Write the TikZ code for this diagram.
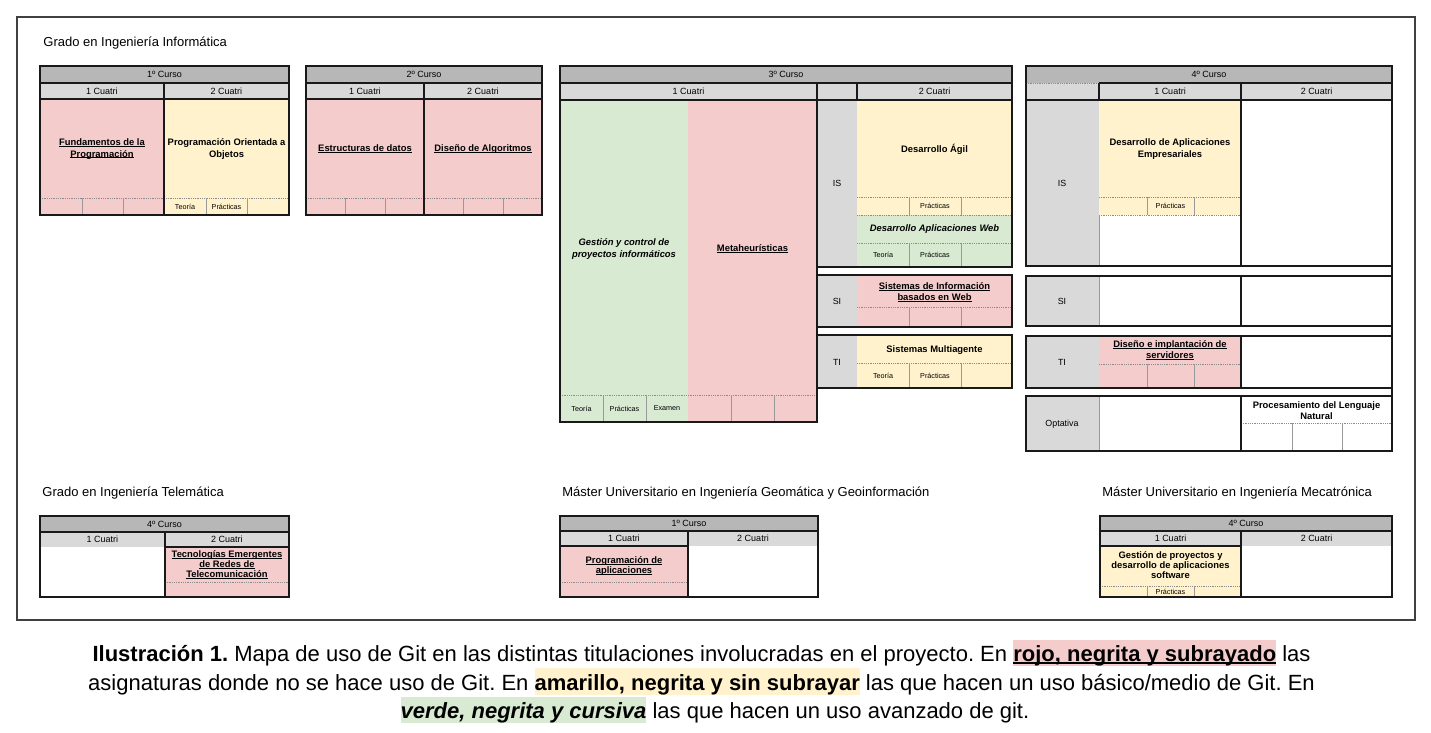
\documentclass[tikz,border=0pt]{standalone}
\usepackage{fontspec}
\setmainfont{Liberation Sans}
\frenchspacing
\setlength{\fboxsep}{0pt}
\newsavebox\myulbox
\newcommand\myul[1]{\leavevmode\sbox\myulbox{#1}\rlap{\rule[-0.11em]{\wd\myulbox}{0.08em}}\usebox\myulbox}
\newcommand\hlstrut{\rule[-0.08em]{0pt}{1.06em}}
\definecolor{pinkc}{HTML}{F4CCCC}
\definecolor{yelc}{HTML}{FFF2CC}
\definecolor{grnc}{HTML}{D9EAD3}
\definecolor{hdra}{HTML}{B7B7B7}
\definecolor{hdrb}{HTML}{D9D9D9}
\definecolor{lblc}{HTML}{D9D9D9}
\tikzset{
 thk/.style={draw=black!90, line width=1.1pt},
 dotl/.style={draw=black!45, line width=0.35pt, dash pattern=on 0.45pt off 0.45pt},
 thn/.style={draw=black!40, line width=0.35pt},
 ttl/.style={anchor=base west, inner sep=0pt, font=\fontsize{6.5}{7.8}\selectfont},
 hd/.style={inner sep=0pt, font=\fontsize{4.5}{5.4}\selectfont},
 subj/.style={inner sep=0pt, align=center, font=\fontsize{4.7}{5.6}\selectfont\bfseries},
 subji/.style={inner sep=0pt, align=center, font=\fontsize{4.7}{5.6}\selectfont\bfseries\itshape},
 subjb/.style={inner sep=0pt, align=center, font=\fontsize{4.7}{5.0}\selectfont\bfseries},
 sm/.style={inner sep=0pt, font=\fontsize{3.6}{4.2}\selectfont},
 lbl/.style={inner sep=0pt, font=\fontsize{4.45}{5.2}\selectfont},
 captxt/.style={inner sep=0pt, anchor=base, font=\fontsize{11}{13.2}\selectfont},
}
\begin{document}
\begin{tikzpicture}[x=0.5pt,y=-0.5pt]
\useasboundingbox (0,0) rectangle (1431,733);
\fill[white] (0,0) rectangle (1431,733);
\draw[black!75, line width=0.6pt] (17,17) rectangle (1415,620);

% ---------- Titles
\node[ttl] (t1) at (43,47) {Grado en Ingeniería Informática};
\node[ttl] (t2) at (42,496) {Grado en Ingeniería Telemática};
\node[ttl] (t3) at (562,496) {Máster Universitario en Ingeniería Geomática y Geoinformación};
\node[ttl] (t4) at (1102,496) {Máster Universitario en Ingeniería Mecatrónica};

% ---------- Block 1: 1º Curso
\fill[hdra] (40,66) rectangle (289,83);
\fill[hdrb] (40,83) rectangle (289,99);
\fill[pinkc] (40,99) rectangle (164,215);
\fill[yelc] (164,99) rectangle (289,215);
\draw[dotl] (40,198) -- (289,198);
\draw[thn] (82,198) -- (82,215) (123,198) -- (123,215) (206,198) -- (206,215) (247,198) -- (247,215);
\draw[thk] (40,66) rectangle (289,215) (40,83) -- (289,83) (40,99) -- (289,99) (164,83) -- (164,215);
\node[hd] (c1h) at (164.5,74.5) {1º Curso};
\node[hd] (c1a) at (102,91.5) {1 Cuatri};
\node[hd] (c1b) at (226.5,91.5) {2 Cuatri};
\node[subj] (fp) at (102,149) {\myul{Fundamentos de la}\\\myul{Programación}};
\node[subj] (poo) at (226.5,149) {Programación Orientada a\\Objetos};
\node[sm] (poot) at (185,206.5) {Teoría};
\node[sm] (poop) at (226.5,206.5) {Prácticas};

% ---------- Block 2: 2º Curso
\fill[hdra] (306,66) rectangle (542,83);
\fill[hdrb] (306,83) rectangle (542,99);
\fill[pinkc] (306,99) rectangle (542,215);
\draw[dotl] (306,198) -- (542,198);
\draw[thn] (345,198) -- (345,215) (385,198) -- (385,215) (463,198) -- (463,215) (503,198) -- (503,215);
\draw[thk] (306,66) rectangle (542,215) (306,83) -- (542,83) (306,99) -- (542,99) (424,83) -- (424,215);
\node[hd] (c2h) at (424,74.5) {2º Curso};
\node[hd] (c2a) at (365,91.5) {1 Cuatri};
\node[hd] (c2b) at (483,91.5) {2 Cuatri};
\node[subj] (ed) at (365,149) {\myul{Estructuras de datos}};
\node[subj] (da) at (483,149) {\myul{Diseño de Algoritmos}};

% ---------- Block 3: 3º Curso
\fill[hdra] (560,66) rectangle (1012,83);
\fill[hdrb] (560,83) rectangle (1012,100);
\fill[grnc] (560,100) rectangle (688,422);
\fill[pinkc] (688,100) rectangle (817,422);
\draw[dotl] (560,395) -- (817,395);
\draw[thn] (603,395) -- (603,422) (646,395) -- (646,422) (731,395) -- (731,422) (774,395) -- (774,422);
% IS
\fill[lblc] (817,100) rectangle (857,267);
\fill[yelc] (857,100) rectangle (1012,215);
\fill[grnc] (857,215) rectangle (1012,267);
\draw[dotl] (857,197) -- (1012,197) (857,215) -- (1012,215) (857,243) -- (1012,243);
\draw[thn] (909,197) -- (909,215) (961,197) -- (961,215) (909,243) -- (909,267) (961,243) -- (961,267);
% SI
\fill[lblc] (817,275) rectangle (857,327);
\fill[pinkc] (857,275) rectangle (1012,327);
\draw[dotl] (857,307) -- (1012,307);
\draw[thn] (909,307) -- (909,327) (961,307) -- (961,327);
% TI
\fill[lblc] (817,335) rectangle (857,388);
\fill[yelc] (857,335) rectangle (1012,388);
\draw[dotl] (857,363) -- (1012,363);
\draw[thn] (909,363) -- (909,388) (961,363) -- (961,388);
% borders
\draw[thk] (560,66) rectangle (1012,100);
\draw[thk] (560,83) -- (1012,83) (817,83) -- (817,100) (857,83) -- (857,100);
\draw[thk] (560,100) -- (560,422) -- (817,422) -- (817,100);
\draw[thk] (817,100) rectangle (1012,267);
\draw[thk] (817,275) rectangle (1012,327);
\draw[thk] (817,335) rectangle (1012,388);
\node[hd] (c3h) at (786,74.5) {3º Curso};
\node[hd] (c3a) at (688.5,91.5) {1 Cuatri};
\node[hd] (c3b) at (934.5,91.5) {2 Cuatri};
\node[subji] (gcp) at (624,249) {Gestión y control de\\proyectos informáticos};
\node[subj] (meta) at (752.5,249) {\myul{Metaheurísticas}};
\node[sm] (gcpt) at (581.5,408.5) {Teoría};
\node[sm] (gcpp) at (624.5,408.5) {Prácticas};
\node[sm] (gcpe) at (667,408.5) {Examen};
\node[lbl] (is3) at (837,183) {IS};
\node[subj] (dag) at (934.5,149) {Desarrollo Ágil};
\node[sm] (dagp) at (935,206) {Prácticas};
\node[subji] (daw) at (934.5,229) {Desarrollo Aplicaciones Web};
\node[sm] (dawt) at (883,255) {Teoría};
\node[sm] (dawp) at (935,255) {Prácticas};
\node[lbl] (si3) at (837,301) {SI};
\node[subj] (siw) at (934.5,292) {\myul{Sistemas de Información}\\\myul{basados en Web}};
\node[lbl] (ti3) at (837,362) {TI};
\node[subj] (sma) at (934.5,350) {Sistemas Multiagente};
\node[sm] (smat) at (883,376) {Teoría};
\node[sm] (smap) at (935,376) {Prácticas};

% ---------- Block 4: 4º Curso
\fill[hdra] (1026,66) rectangle (1392,83);
\fill[hdrb] (1026,83) rectangle (1392,100);
\fill[lblc] (1026,100) rectangle (1099,266);
\fill[yelc] (1099,100) rectangle (1241,215);
\draw[dotl] (1099,197) -- (1241,197) (1099,215) -- (1241,215);
\draw[thn] (1147,197) -- (1147,215) (1194,197) -- (1194,215) (1099,215) -- (1099,266);
\fill[lblc] (1026,276) rectangle (1099,326);
\draw[thn] (1099,276) -- (1099,326);
\fill[lblc] (1026,336) rectangle (1099,388);
\fill[pinkc] (1099,336) rectangle (1241,388);
\draw[dotl] (1099,364) -- (1241,364);
\draw[thn] (1147,364) -- (1147,388) (1194,364) -- (1194,388);
\fill[lblc] (1026,396) rectangle (1099,451);
\draw[thn] (1099,396) -- (1099,451);
\draw[dotl] (1241,423) -- (1392,423);
\draw[thn] (1292,423) -- (1292,451) (1342,423) -- (1342,451);
\draw[dotl] (1026,83) -- (1099,83);
\draw[thk] (1026,100) -- (1026,66) -- (1392,66) -- (1392,451);
\draw[thk] (1099,83) -- (1392,83) (1099,83) -- (1099,100) (1241,83) -- (1241,100) (1026,100) -- (1392,100);
\draw[thk] (1026,100) rectangle (1392,266) (1241,100) -- (1241,266);
\draw[thk] (1026,276) rectangle (1392,326) (1241,276) -- (1241,326);
\draw[thk] (1026,336) rectangle (1392,388) (1241,336) -- (1241,388);
\draw[thk] (1026,396) rectangle (1392,451) (1241,396) -- (1241,451);
\node[hd] (c4h) at (1209,74.5) {4º Curso};
\node[hd] (c4a) at (1170,91.5) {1 Cuatri};
\node[hd] (c4b) at (1316.5,91.5) {2 Cuatri};
\node[lbl] (is4) at (1062,183) {IS};
\node[subj] (dae) at (1170,149) {Desarrollo de Aplicaciones\\Empresariales};
\node[sm] (daep) at (1170.5,206) {Prácticas};
\node[lbl] (si4) at (1062,301) {SI};
\node[lbl] (ti4) at (1062,362) {TI};
\node[subj] (dis) at (1170,350) {\myul{Diseño e implantación de}\\\myul{servidores}};
\node[lbl] (opt) at (1062,424) {Optativa};
\node[subj] (pln) at (1316.5,411) {Procesamiento del Lenguaje\\Natural};

% ---------- Telemática
\fill[hdra] (40,516) rectangle (289,532);
\fill[hdrb] (40,532) rectangle (289,547);
\fill[pinkc] (165,547) rectangle (289,597);
\draw[dotl] (165,582) -- (289,582);
\draw[thk] (40,516) rectangle (289,597) (40,532) -- (289,532) (165,547) -- (289,547) (165,532) -- (165,597);
\node[hd] (c5h) at (164.5,524) {4º Curso};
\node[hd] (c5a) at (102.5,539.5) {1 Cuatri};
\node[hd] (c5b) at (227,539.5) {2 Cuatri};
\node[subjb] (ter) at (227,565) {\myul{Tecnologías Emergentes}\\\myul{de Redes de}\\\myul{Telecomunicación}};

% ---------- Geomática
\fill[hdra] (560,516) rectangle (818,531);
\fill[hdrb] (560,531) rectangle (818,546);
\fill[pinkc] (560,546) rectangle (688,597);
\draw[dotl] (560,582) -- (688,582);
\draw[thk] (560,516) rectangle (818,597) (560,531) -- (818,531) (560,546) -- (688,546) (688,531) -- (688,597);
\node[hd] (c6h) at (689,523.5) {1º Curso};
\node[hd] (c6a) at (624,538.5) {1 Cuatri};
\node[hd] (c6b) at (753,538.5) {2 Cuatri};
\node[subjb] (pda) at (624,566) {\myul{Programación de}\\\myul{aplicaciones}};

% ---------- Mecatrónica
\fill[hdra] (1100,516) rectangle (1392,531);
\fill[hdrb] (1100,531) rectangle (1392,546);
\fill[yelc] (1100,546) rectangle (1241,597);
\draw[dotl] (1100,586) -- (1241,586);
\draw[thn] (1147,586) -- (1147,597) (1194,586) -- (1194,597);
\draw[thk] (1100,516) rectangle (1392,597) (1100,531) -- (1392,531) (1100,546) -- (1241,546) (1241,531) -- (1241,597);
\node[hd] (c7h) at (1246,523.5) {4º Curso};
\node[hd] (c7a) at (1170.5,538.5) {1 Cuatri};
\node[hd] (c7b) at (1316.5,538.5) {2 Cuatri};
\node[subjb] (gpd) at (1170.5,565) {Gestión de proyectos y\\desarrollo de aplicaciones\\software};
\node[sm] (gpdp) at (1170.5,591.5) {Prácticas};

% ---------- Caption
\node[captxt] (cap1) at (701.5,661.5) {\textbf{Ilustración 1.} Mapa de uso de Git en las distintas titulaciones involucradas en el proyecto. En \colorbox{pinkc}{\hlstrut\textbf{\myul{rojo, negrita y subrayado}}} las};
\node[captxt] (cap2) at (701.5,690) {asignaturas donde no se hace uso de Git. En \colorbox{yelc}{\hlstrut\textbf{amarillo, negrita y sin subrayar}} las que hacen un uso básico/medio de Git. En};
\node[captxt] (cap3) at (715,718.5) {\colorbox{grnc}{\hlstrut\textbf{\textit{verde, negrita y cursiva}}} las que hacen un uso avanzado de git.};
\end{tikzpicture}
\end{document}
